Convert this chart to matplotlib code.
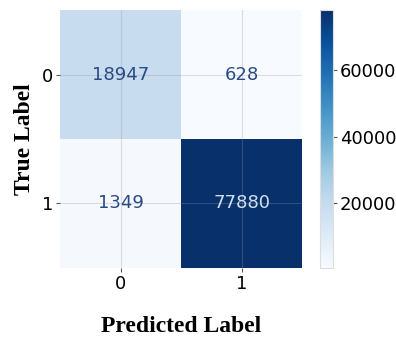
import numpy as np
import matplotlib.pyplot as plt

plt.rcParams['font.family'] = ['DejaVu Sans']

labels = ['0', '1']
cm = np.array([[18947, 628],
               [1349, 77880]])

fig = plt.figure(figsize=(3.96, 3.37), dpi=100)
ax = fig.add_axes([0.152, 0.205, 0.611, 0.765])
cax = fig.add_axes([0.808, 0.205, 0.033, 0.765])

cmap = plt.get_cmap('Blues')
im = ax.imshow(cm, cmap=cmap, aspect='auto', vmin=cm.min(), vmax=cm.max())

thresh = (cm.max() + cm.min()) / 2
for i in range(cm.shape[0]):
    for j in range(cm.shape[1]):
        col = '#d0dff0' if cm[i, j] > thresh else '#2a4a85'
        ax.text(j, i, str(cm[i, j]), ha='center', va='center', fontsize=13, color=col)

ax.set_xticks(range(len(labels)))
ax.set_yticks(range(len(labels)))
ax.set_xticklabels(labels, fontsize=13)
ax.set_yticklabels(labels, fontsize=13)
ax.grid(True, color='#999999', alpha=0.3, linewidth=0.8)
for s in ax.spines.values():
    s.set_visible(False)
ax.tick_params(length=3, color='#555555', pad=2)

ax.set_xlabel('Predicted Label', fontsize=17, fontweight='bold', family='Liberation Serif', labelpad=17)
ax.set_ylabel('True Label', fontsize=17, fontweight='bold', family='Liberation Serif', labelpad=5)

cb = fig.colorbar(im, cax=cax, ticks=[20000, 40000, 60000])
cb.ax.tick_params(labelsize=13, length=3, color='#555555', pad=2)
cb.outline.set_edgecolor('#dddddd')

fig.savefig('out.png', dpi=100)
